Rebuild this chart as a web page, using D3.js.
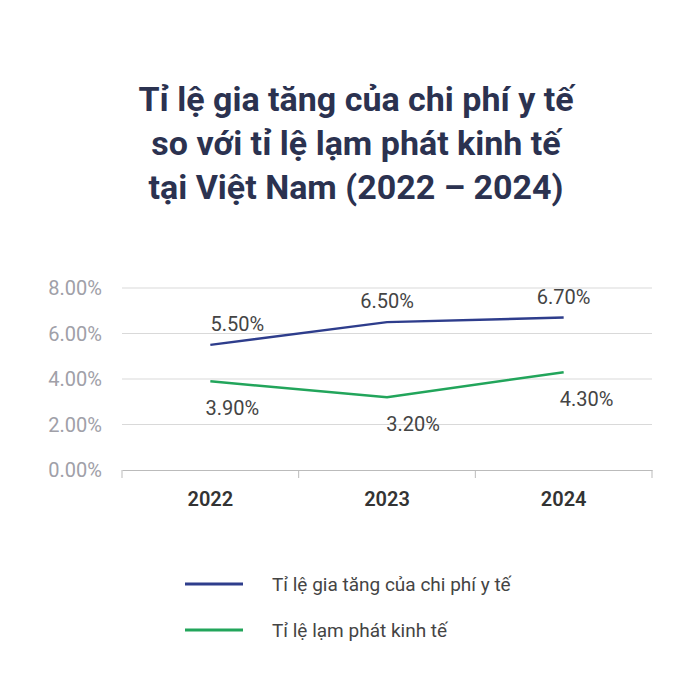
<!DOCTYPE html><html><head><meta charset="utf-8"><script src="https://cdn.jsdelivr.net/npm/d3@7"></script>
<style>body{margin:0;background:#fff}</style></head><body><svg width="700" height="700"></svg><script>
const years=["2022","2023","2024"];
const health=[5.5,6.5,6.7];
const inflation=[3.9,3.2,4.3];
const yTicks=[0,2,4,6,8];
const seriesNames=["Tỉ lệ gia tăng của chi phí y tế","Tỉ lệ lạm phát kinh tế"];
const colors=["#2e3d8c","#22a55b"];
const titleLines=["Tỉ lệ gia tăng của chi phí y tế","so với tỉ lệ lạm phát kinh tế","tại Việt Nam (2022 – 2024)"];
const labelShift=[[27,0,0],[22,26,23]];
const svg=d3.select("svg"),F="Roboto, 'Noto Sans', sans-serif";
svg.append("g").selectAll("text").data(titleLines).join("text").attr("x",356).attr("y",(d,i)=>111+i*44)
 .attr("text-anchor","middle").attr("font-family",F).attr("font-weight","bold").attr("font-size",34).attr("fill","#2b3250").text(d=>d);
const x=d3.scaleBand().domain(years).range([122,652]);
const y=d3.scaleLinear().domain([0,8]).range([470,288]);
const g=svg.append("g");
g.selectAll(".gl").data(yTicks.slice(1)).join("line").attr("x1",122).attr("x2",652).attr("y1",d=>y(d)).attr("y2",d=>y(d)).attr("stroke","#d9d9d9");
g.selectAll(".yl").data(yTicks).join("text").attr("x",102).attr("y",d=>y(d)+7).attr("text-anchor","end").attr("font-family",F).attr("font-size",20).attr("fill","#a0a0a8").text(d=>d.toFixed(2)+"%");
const ax=svg.append("g").attr("transform","translate(0,470)").call(d3.axisBottom(x).tickSize(0).tickPadding(22));
ax.select(".domain").attr("stroke","#bbb");
ax.selectAll("text").attr("font-family",F).attr("font-size",20).attr("font-weight","600").attr("fill","#333");
g.selectAll(".tk").data([122,...years.map(d=>x(d)+x.bandwidth())]).join("line").attr("x1",d=>d).attr("x2",d=>d).attr("y1",470).attr("y2",478).attr("stroke","#bbb");
const cx=d=>x(d)+x.bandwidth()/2;
[health,inflation].forEach((s,k)=>{
 const pts=years.map((yr,i)=>[cx(yr),y(s[i])]);
 svg.append("path").attr("d",d3.line()(pts)).attr("fill","none").attr("stroke",colors[k]).attr("stroke-width",2.5);
 svg.append("g").selectAll("text").data(s).join("text").attr("x",(d,i)=>cx(years[i])+labelShift[k][i]).attr("y",(d,i)=>y(d)+(k==0?-14:34))
  .attr("text-anchor","middle").attr("font-family",F).attr("font-size",20).attr("fill","#444").text(d=>d.toFixed(2)+"%");
});
seriesNames.forEach((n,k)=>{
 const yy=584+k*46;
 svg.append("line").attr("x1",185).attr("x2",243).attr("y1",yy).attr("y2",yy).attr("stroke",colors[k]).attr("stroke-width",3);
 svg.append("text").attr("x",272).attr("y",yy+7).attr("font-family",F).attr("font-size",19).attr("fill","#444").text(n);
});
</script></body></html>
